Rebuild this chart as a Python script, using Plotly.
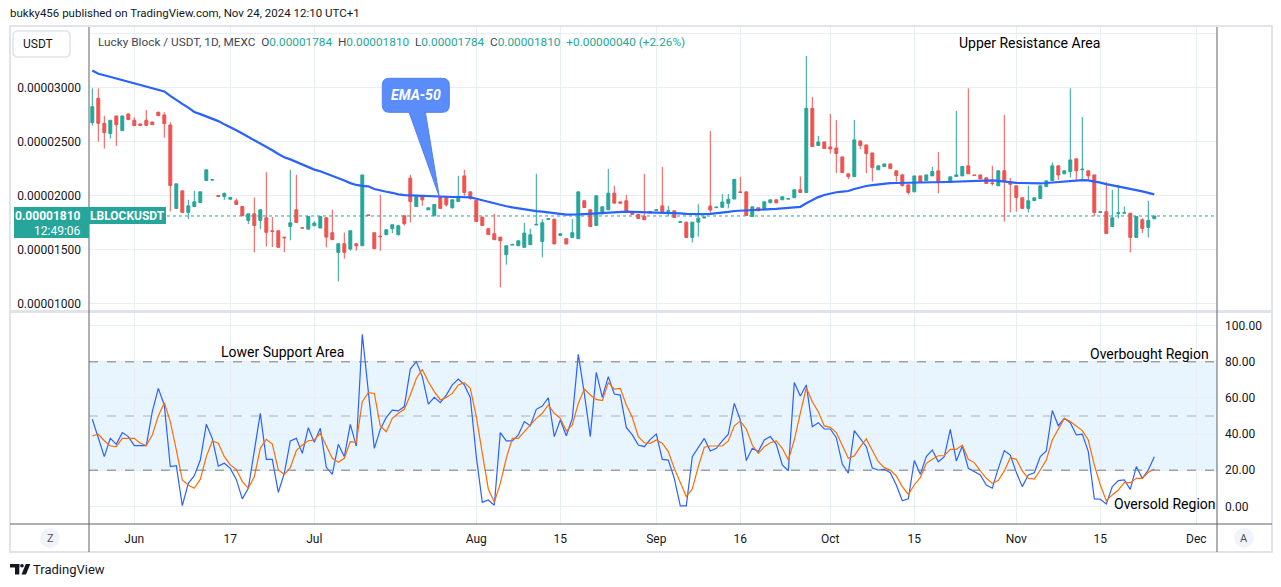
import plotly.graph_objects as go

W, H = 1281, 587
UNIT = 1e-8  # price values below are in units of 0.00000001

# ---------------- data ----------------
tick_pos = [7, 23, 37, 64, 78, 94, 108, 123, 137, 154, 168, 184]
tick_text = ["Jun", "17", "Jul", "Aug", "15", "Sep", "16", "Oct", "15", "Nov", "15", "Dec"]

opens = [
    2676, 2901, 2670, 2574, 2738, 2602, 2756, 2698, 2664, 2698,
    2682, 2772, 2747, 2654, 1880, 2043, 1843, 1898, 1935, 2139,
    2143, 2000, 1991, 1966, 1951, 1898, 1769, 1830, 1769, 1793,
    1673, 1673, 1614, 1713, 1867, 1700, 1688, 1719, 1698, 1793,
    1655, 1472, 1553, 1503, 1553, 1534, 1820, 1655, 1624, 1636,
    1692, 1636, 1812, 2161, 1898, 1997, 1867, 1812, 1991, 1991,
    1886, 1945, 2182, 2034, 1954, 1800, 1692, 1645, 1614, 1451,
    1540, 1534, 1519, 1543, 1726, 1574, 1778, 1781, 1630, 1599,
    1611, 1599, 1951, 1867, 1722, 1830, 1867, 2022, 1941, 1951,
    1843, 1824, 1806, 1852, 1861, 1904, 1852, 1858, 1750, 1753,
    1611, 1753, 1791, 1902, 1887, 1890, 1927, 1967, 2034, 2034,
    1806, 1886, 1877, 1932, 1960, 1960, 1966, 1979, 2053, 2028,
    2809, 2463, 2497, 2451, 2441, 2358, 2201, 2176, 2506, 2469,
    2395, 2238, 2269, 2293, 2229, 2191, 2099, 2034, 2182, 2139,
    2182, 2229, 2120, 2120, 2176, 2182, 2275, 2191, 2191, 2164,
    2117, 2090, 2229, 2114, 2090, 1979, 1880, 1954, 1972, 2083,
    2139, 2275, 2201, 2222, 2340, 2238, 2229, 2191, 1843, 1849,
    1713, 1833, 1836, 1836, 1611, 1775, 1704, 1784,
]
highs = [
    2994, 2994, 2738, 2698, 2738, 2738, 2762, 2725, 2664, 2793,
    2682, 2778, 2772, 2679, 2108, 2043, 1960, 2043, 2034, 2238,
    2146, 2000, 2028, 1982, 1972, 1898, 1830, 1982, 1867, 2216,
    1800, 1673, 1614, 2238, 2191, 1700, 1806, 1760, 1806, 1800,
    1867, 1553, 1655, 1673, 1553, 2191, 1820, 1655, 2006, 1682,
    1729, 1729, 1812, 2191, 1991, 1997, 1886, 1917, 1991, 1991,
    1960, 2182, 2238, 2034, 1954, 1800, 1692, 1830, 1614, 1534,
    1546, 1580, 1747, 1692, 2201, 1781, 1784, 1781, 1645, 1599,
    1781, 2034, 1951, 1867, 1997, 1895, 2247, 2090, 1941, 2006,
    1843, 1824, 2201, 1852, 1867, 2265, 1904, 1858, 1756, 1753,
    1753, 1919, 1800, 2598, 1892, 2014, 2014, 2150, 2173, 2034,
    1895, 1886, 1941, 1960, 1960, 1988, 1972, 2053, 2176, 3294,
    2914, 2553, 2497, 2756, 2701, 2358, 2201, 2701, 2506, 2469,
    2395, 2275, 2293, 2293, 2229, 2201, 2099, 2182, 2182, 2191,
    2265, 2404, 2126, 2173, 2784, 2269, 2994, 2191, 2191, 2164,
    2275, 2229, 2747, 2161, 2090, 1979, 2090, 1979, 2090, 2136,
    2306, 2281, 2229, 2994, 2340, 2728, 2229, 2191, 1849, 2127,
    2053, 2099, 1898, 1836, 1806, 1790, 1951, 1810,
]
lows = [
    2648, 2500, 2435, 2528, 2460, 2602, 2700, 2648, 2645, 2648,
    2657, 2735, 2537, 1852, 1877, 1843, 1781, 1898, 1935, 2139,
    2143, 1991, 1960, 1960, 1917, 1812, 1735, 1472, 1688, 1528,
    1522, 1519, 1472, 1584, 1745, 1698, 1688, 1719, 1698, 1519,
    1590, 1204, 1414, 1488, 1488, 1534, 1812, 1506, 1488, 1636,
    1651, 1630, 1722, 1750, 1898, 1904, 1867, 1812, 1880, 1898,
    1880, 1945, 1997, 1960, 1759, 1722, 1639, 1590, 1148, 1358,
    1540, 1534, 1519, 1543, 1726, 1426, 1778, 1550, 1630, 1550,
    1611, 1599, 1889, 1713, 1722, 1830, 1867, 1929, 1929, 1843,
    1824, 1787, 1775, 1836, 1861, 1852, 1806, 1796, 1750, 1611,
    1565, 1618, 1791, 1819, 1887, 1890, 1881, 1967, 2028, 1815,
    1806, 1858, 1877, 1932, 1932, 1960, 1966, 1979, 2028, 2028,
    2454, 2463, 2435, 2389, 2207, 2213, 2151, 2176, 2429, 2207,
    2130, 2238, 2269, 2250, 2127, 2083, 2009, 2034, 2120, 2139,
    2182, 2019, 2120, 2120, 2176, 2182, 2201, 2185, 2154, 2111,
    2090, 2090, 1759, 1843, 1852, 1880, 1843, 1954, 1972, 2083,
    2139, 2145, 2201, 2167, 2145, 2145, 2145, 1806, 1843, 1648,
    1713, 1787, 1836, 1472, 1611, 1651, 1611, 1784,
]
closes = [
    2824, 2670, 2583, 2698, 2657, 2738, 2704, 2648, 2651, 2651,
    2657, 2741, 2667, 2093, 2108, 1843, 1904, 1941, 2034, 2238,
    2146, 1991, 2019, 1982, 1917, 1812, 1830, 1722, 1867, 1658,
    1667, 1519, 1608, 1747, 1750, 1698, 1806, 1744, 1806, 1614,
    1590, 1553, 1472, 1673, 1534, 2191, 1815, 1506, 1618, 1682,
    1729, 1719, 1738, 1945, 1991, 1960, 1886, 1917, 1880, 1914,
    1960, 1991, 2028, 1975, 1759, 1722, 1639, 1590, 1580, 1534,
    1546, 1580, 1651, 1636, 1732, 1747, 1784, 1550, 1645, 1550,
    1655, 2034, 1889, 1713, 1997, 1895, 2022, 1929, 1929, 1843,
    1824, 1787, 1775, 1836, 1867, 1852, 1858, 1796, 1756, 1611,
    1753, 1790, 1800, 1865, 1892, 1940, 1965, 2150, 2028, 1815,
    1895, 1858, 1941, 1960, 1932, 1988, 1972, 2053, 2028, 2809,
    2454, 2497, 2435, 2432, 2389, 2213, 2176, 2516, 2463, 2389,
    2259, 2275, 2293, 2250, 2185, 2093, 2028, 2182, 2120, 2191,
    2222, 2120, 2126, 2173, 2191, 2269, 2201, 2185, 2154, 2111,
    2111, 2229, 2130, 2105, 1982, 1880, 1951, 1979, 2090, 2136,
    2275, 2191, 2229, 2330, 2229, 2244, 2182, 1843, 1849, 1648,
    1793, 1839, 1840, 1611, 1806, 1695, 1770, 1810,
]
ema50 = [
    3160, 3130, 3115, 3100, 3087, 3073, 3055, 3040, 3028, 3013,
    3000, 2985, 2965, 2925, 2885, 2850, 2815, 2775, 2755, 2735,
    2715, 2690, 2660, 2635, 2605, 2575, 2545, 2510, 2480, 2450,
    2420, 2385, 2355, 2335, 2310, 2285, 2265, 2240, 2225, 2205,
    2185, 2165, 2140, 2115, 2098, 2090, 2085, 2060, 2045, 2035,
    2025, 2010, 2003, 2000, 1997, 1995, 1993, 1990, 1988, 1987,
    1986, 1986, 1985, 1982, 1970, 1955, 1940, 1925, 1910, 1900,
    1890, 1880, 1868, 1860, 1855, 1850, 1845, 1838, 1830, 1822,
    1820, 1825, 1828, 1832, 1836, 1840, 1845, 1848, 1850, 1850,
    1849, 1847, 1846, 1846, 1845, 1845, 1844, 1840, 1835, 1830,
    1828, 1827, 1828, 1830, 1834, 1840, 1848, 1856, 1860, 1862,
    1864, 1866, 1869, 1873, 1876, 1880, 1884, 1888, 1895, 1928,
    1960, 1985, 2005, 2020, 2030, 2036, 2042, 2060, 2075, 2088,
    2097, 2104, 2110, 2114, 2116, 2118, 2120, 2121, 2122, 2123,
    2123, 2123, 2125, 2128, 2131, 2135, 2138, 2140, 2141, 2141,
    2140, 2135, 2128, 2122, 2118, 2116, 2114, 2113, 2113, 2116,
    2120, 2124, 2130, 2137, 2141, 2142, 2141, 2133, 2120, 2106,
    2096, 2086, 2077, 2064, 2050, 2038, 2024, 2011,
]
stoch_k = [
    48.2, 37.6, 27.5, 37.6, 34.3, 40.8, 38.6, 33.6, 33.4, 33.6,
    52.4, 65.3, 56.1, 22.0, 22.5, 0.4, 12.7, 17.0, 25.6, 45.4,
    37.6, 22.3, 23.8, 21.0, 14.9, 4.1, 10.0, 31.2, 51.5, 26.0,
    26.0, 7.7, 18.3, 36.2, 37.6, 29.3, 43.5, 35.4, 43.2, 21.6,
    17.7, 34.3, 27.5, 45.4, 33.4, 95.2, 62.5, 32.1, 42.6, 49.3,
    53.3, 52.8, 55.2, 76.0, 80.1, 71.8, 56.6, 60.3, 57.4, 61.6,
    67.2, 70.5, 67.2, 60.3, 27.5, 2.2, 3.5, 0.6, 40.8, 36.2,
    36.2, 39.5, 46.9, 44.6, 53.7, 55.5, 60.1, 38.6, 47.8, 39.1,
    48.7, 84.1, 62.5, 38.6, 74.2, 60.3, 71.8, 62.2, 61.6, 43.7,
    39.5, 33.9, 33.0, 37.1, 40.0, 26.0, 25.6, 15.5, 0.2, 0.2,
    27.5, 32.7, 37.6, 30.6, 32.1, 36.2, 39.9, 57.0, 47.8, 25.3,
    32.1, 30.3, 36.7, 38.6, 34.3, 22.9, 19.7, 68.5, 61.1, 67.2,
    44.1, 46.3, 42.8, 42.8, 38.0, 23.4, 18.3, 41.9, 37.6, 33.0,
    21.2, 20.1, 20.5, 18.6, 11.8, 3.1, 4.1, 25.3, 17.7, 27.5,
    31.2, 24.7, 27.5, 42.6, 25.1, 33.4, 21.0, 19.2, 17.3, 11.8,
    10.0, 21.0, 30.8, 28.4, 18.8, 10.9, 17.3, 18.6, 27.5, 30.6,
    53.0, 44.6, 48.7, 46.3, 39.5, 40.0, 30.3, 4.1, 3.9, 1.3,
    10.9, 14.2, 14.6, 9.4, 22.0, 15.5, 20.1, 27.5,
]
stoch_d = [
    38.9, 39.9, 36.3, 33.4, 33.0, 37.6, 37.6, 37.6, 34.9, 33.6,
    39.5, 50.0, 57.4, 46.9, 31.2, 14.6, 11.8, 10.0, 14.9, 27.5,
    36.2, 34.9, 27.5, 22.9, 20.5, 13.7, 10.0, 16.4, 32.1, 37.1,
    34.5, 20.1, 17.7, 21.4, 30.8, 33.9, 36.3, 36.7, 40.4, 33.0,
    26.6, 24.4, 26.6, 35.8, 35.4, 57.9, 62.9, 62.5, 44.5, 41.3,
    48.7, 51.5, 53.7, 61.6, 70.8, 75.8, 69.0, 63.5, 58.9, 60.3,
    62.5, 67.2, 68.5, 65.3, 49.6, 29.3, 9.6, 2.2, 12.7, 26.6,
    37.6, 37.6, 41.3, 44.5, 48.7, 51.5, 56.1, 51.5, 48.7, 41.7,
    45.0, 57.0, 64.9, 61.6, 59.2, 58.5, 68.5, 64.9, 65.3, 56.1,
    49.3, 38.6, 35.2, 34.9, 36.7, 34.9, 30.3, 21.0, 12.7, 5.4,
    9.6, 22.0, 32.7, 33.4, 33.4, 33.4, 36.2, 44.6, 47.2, 42.8,
    33.9, 29.3, 33.0, 35.2, 36.2, 32.1, 25.6, 36.7, 51.5, 65.7,
    57.9, 52.4, 44.5, 43.7, 40.8, 33.9, 26.6, 27.9, 33.0, 37.3,
    31.2, 24.7, 21.4, 20.1, 16.8, 10.9, 6.6, 11.8, 15.9, 23.8,
    26.0, 28.0, 28.0, 31.5, 31.5, 33.9, 26.0, 24.2, 19.6, 15.5,
    12.7, 14.2, 19.6, 26.9, 26.0, 19.6, 15.5, 15.1, 20.1, 25.6,
    36.7, 42.8, 48.7, 46.9, 44.6, 41.9, 36.7, 22.9, 11.8, 3.1,
    6.3, 9.0, 13.1, 13.1, 15.5, 15.5, 18.8, 20.7,
]
price_ticks = [1000, 1500, 2000, 2500, 3000, 3500]
osc_ticks = [0, 20, 40, 60, 80, 100]
osc_levels = [80, 50, 20]

for name, arr in [("opens", opens), ("highs", highs), ("lows", lows), ("ema50", ema50),
                  ("stoch_k", stoch_k), ("stoch_d", stoch_d)]:
    if len(arr) != len(closes):
        raise SystemExit(f"{name} has {len(arr)} values, closes has {len(closes)}")

# ---------------- helpers ----------------
idx = list(range(len(closes)))


def sc(v):
    return [x * UNIT for x in v]


def PX(x):
    return x / W


def PY(y):
    return 1 - y / H


UP = "#26a69a"
DOWN = "#ef5350"
GRID = "#e8eef3"
TEXT = "#131722"
BORDER = "#e0e3eb"
AXIS = "#5d606b"
FONT = "Roboto, Arial, sans-serif"

X_L, X_R = 89, 1217
P_T, P_B = 27, 310
O_T, O_B = 313, 524
# axis ranges derived from pixel calibration of the reference (6 px per bar)
x_range = [(X_L - 92.3) / 6.0, (X_R - 92.3) / 6.0]
p_per_px = 2000 / 215.6
price_range = [(1000 - (P_B - 303.3) * p_per_px) * UNIT, (3000 + (87.7 - P_T) * p_per_px) * UNIT]
o_per_px = 100 / (506.3 - 325.7)
osc_range = [-(O_B - 506.3) * o_per_px, 100 + (325.7 - O_T) * o_per_px]

fig = go.Figure()
fig.add_trace(go.Candlestick(
    x=idx, open=sc(opens), high=sc(highs), low=sc(lows), close=sc(closes),
    increasing=dict(line=dict(color=UP, width=1), fillcolor=UP),
    decreasing=dict(line=dict(color=DOWN, width=1), fillcolor=DOWN),
    whiskerwidth=0, xaxis="x", yaxis="y", showlegend=False, hoverinfo="skip"))
fig.add_trace(go.Scatter(x=idx, y=sc(ema50), mode="lines", line=dict(color="#2962ff", width=2.2),
                         xaxis="x", yaxis="y", showlegend=False, hoverinfo="skip"))
fig.add_trace(go.Scatter(x=idx, y=stoch_k, mode="lines", line=dict(color="#2962ff", width=1.2),
                         xaxis="x2", yaxis="y2", showlegend=False, hoverinfo="skip"))
fig.add_trace(go.Scatter(x=idx, y=stoch_d, mode="lines", line=dict(color="#ff6d00", width=1.2),
                         xaxis="x2", yaxis="y2", showlegend=False, hoverinfo="skip"))

tick_font = dict(family=FONT, size=12, color=TEXT)
common_x = dict(domain=[PX(X_L), PX(X_R)], range=x_range, tickmode="array", tickvals=tick_pos,
                showgrid=True, gridcolor=GRID, gridwidth=1, zeroline=False, showline=False,
                ticks="", fixedrange=True)

shapes = []


def rrect(x0, y0, x1, y1, r):
    X, Y = PX, PY
    return (f"M {X(x0 + r)},{Y(y0)} L {X(x1 - r)},{Y(y0)} Q {X(x1)},{Y(y0)} {X(x1)},{Y(y0 + r)} "
            f"L {X(x1)},{Y(y1 - r)} Q {X(x1)},{Y(y1)} {X(x1 - r)},{Y(y1)} L {X(x0 + r)},{Y(y1)} "
            f"Q {X(x0)},{Y(y1)} {X(x0)},{Y(y1 - r)} L {X(x0)},{Y(y0 + r)} Q {X(x0)},{Y(y0)} {X(x0 + r)},{Y(y0)} Z")


def pline(x0, y0, x1, y1, color, width=1, dash="solid"):
    shapes.append(dict(type="line", xref="paper", yref="paper", x0=PX(x0), y0=PY(y0), x1=PX(x1), y1=PY(y1),
                       line=dict(color=color, width=width, dash=dash)))


def prect(x0, y0, x1, y1, fill, line_color=None, line_width=0):
    shapes.append(dict(type="rect", xref="paper", yref="paper", x0=PX(x0), y0=PY(y1), x1=PX(x1), y1=PY(y0),
                       fillcolor=fill, line=dict(color=line_color or fill, width=line_width)))


# oscillator band and levels
shapes.append(dict(type="rect", xref="x2 domain", yref="y2", x0=0, x1=1, y0=osc_levels[2], y1=osc_levels[0],
                   fillcolor="rgba(33,150,243,0.10)", line=dict(width=0), layer="below"))
for lv, col in zip(osc_levels, ["#787b86", "rgba(120,123,134,0.55)", "#787b86"]):
    shapes.append(dict(type="line", xref="x2 domain", yref="y2", x0=0, x1=1, y0=lv, y1=lv,
                       line=dict(color=col, width=1, dash="dash")))

# last price dotted line
shapes.append(dict(type="line", xref="x domain", yref="y", x0=0, x1=1, y0=closes[-1] * UNIT, y1=closes[-1] * UNIT,
                   line=dict(color=UP, width=1, dash="dot")))

# frame and pane borders
shapes.append(dict(type="rect", xref="paper", yref="paper", x0=PX(10), x1=PX(1272), y0=PY(552), y1=PY(26),
                   line=dict(color=BORDER, width=2), fillcolor="rgba(0,0,0,0)"))
pline(10, 311.5, 1272, 311.5, BORDER, 3)
pline(X_L, P_T, X_L, 552, AXIS, 1)
pline(X_R, P_T, X_R, 552, AXIS, 1)
pline(10, O_B, 1272, O_B, AXIS, 1)

# USDT box
shapes.append(dict(type="path", xref="paper", yref="paper", path=rrect(13, 31, 70, 57, 5),
                   fillcolor="white", line=dict(color=BORDER, width=1.5)))

# last price labels
prect(14, 207, X_L, 238, UP)
prect(X_L, 207, 166, 224, UP)

# EMA-50 callout
tri = f"M {PX(408.3)},{PY(110)} L {PX(425)},{PY(110)} L {PX(439.3)},{PY(196.7)} Z"
shapes.append(dict(type="path", xref="paper", yref="paper", path=tri, fillcolor="#5b8cfb",
                   line=dict(color="#4f7ff2", width=1)))
shapes.append(dict(type="path", xref="paper", yref="paper", path=rrect(382.3, 78.3, 449.3, 112.3, 7),
                   fillcolor="#5b8cfb", line=dict(color="#4f7ff2", width=1)))
prect(409.5, 108, 424, 113, "#5b8cfb")

# bottom circles
for cx in (50, 1244):
    shapes.append(dict(type="circle", xref="paper", yref="paper", x0=PX(cx - 10), x1=PX(cx + 10),
                       y0=PY(548), y1=PY(528), fillcolor="#f0f3fa", line=dict(width=0)))

# TradingView logo
prect(10, 564, 19.3, 567.5, TEXT)
prect(15, 564, 19.3, 574.5, TEXT)
shapes.append(dict(type="circle", xref="paper", yref="paper", x0=PX(20.2), x1=PX(23.8), y0=PY(567.6), y1=PY(564),
                   fillcolor=TEXT, line=dict(width=0)))
logo_slant = f"M {PX(21.5)},{PY(574.5)} L {PX(26)},{PY(574.5)} L {PX(30.3)},{PY(564)} L {PX(25.8)},{PY(564)} Z"
shapes.append(dict(type="path", xref="paper", yref="paper", path=logo_slant, fillcolor=TEXT, line=dict(width=0)))

annotations = []


def ann(text, x, y, size=12, color=TEXT, xanchor="left", yanchor="middle"):
    annotations.append(dict(text=text, x=PX(x), y=PY(y), xref="paper", yref="paper", showarrow=False,
                            xanchor=xanchor, yanchor=yanchor, font=dict(family=FONT, size=size, color=color),
                            borderpad=0))


ann("bukky456 published on TradingView.com, Nov 24, 2024 12:10 UTC+1", 9, 13, 11.5)
ann("USDT", 22, 44, 12)

o, hh, ll, c = opens[-1] * UNIT, highs[-1] * UNIT, lows[-1] * UNIT, closes[-1] * UNIT
chg = (closes[-1] - closes[-2]) * UNIT
pct = (closes[-1] - closes[-2]) / closes[-2] * 100
sp = "\u00a0\u00a0"
legend = (f"Lucky Block / USDT, 1D, MEXC{sp}"
          f"O<span style='color:{UP}'>{o:.8f}</span>{sp}"
          f"H<span style='color:{UP}'>{hh:.8f}</span>{sp}"
          f"L<span style='color:{UP}'>{ll:.8f}</span>{sp}"
          f"C<span style='color:{UP}'>{c:.8f}</span>{sp}"
          f"<span style='color:{UP}'>{chg:+.8f} ({pct:+.2f}%)</span>")
ann(legend, 97, 42, 11.8, "#434651")

ann("Upper Resistance Area", 958, 43, 14, "#000000")
ann("Lower Support Area", 220, 352, 14, "#000000")
ann("Overbought Region", 1089, 354, 14, "#000000")
ann("Oversold Region", 1113, 504, 14, "#000000")
ann("<b><i>EMA-50</i></b>", 415.8, 95.5, 14, "#ffffff", xanchor="center")

ann(f"<b>{c:.8f}</b>", 82, 215.5, 12, "#ffffff", xanchor="right")
ann("12:49:06", 82, 230.5, 12, "#ffffff", xanchor="right")
ann("<b>LBLOCKUSDT</b>", 127.5, 215.5, 12, "#ffffff", xanchor="center")

ann("Z", 50, 538, 11, "#50535e", xanchor="center")
ann("A", 1244, 538, 11, "#50535e", xanchor="center")
ann("TradingView", 32, 569, 13, TEXT)

fig.update_layout(
    width=W, height=H, autosize=False,
    margin=dict(l=0, r=0, t=0, b=0, pad=0),
    paper_bgcolor="white", plot_bgcolor="white",
    font=dict(family=FONT, size=12, color=TEXT),
    showlegend=False,
    xaxis=dict(**common_x, anchor="y", showticklabels=False, rangeslider=dict(visible=False)),
    xaxis2=dict(**common_x, anchor="y2", ticktext=tick_text, showticklabels=True,
                tickfont=tick_font, ticklabelstandoff=6),
    yaxis=dict(domain=[PY(P_B), PY(P_T)], range=price_range, anchor="x", side="left",
               tickmode="array", tickvals=sc(price_ticks),
               ticktext=[f"{v * UNIT:.8f}" if v < 3500 else "" for v in price_ticks],
               tickfont=tick_font, ticks="", ticklabelstandoff=7,
               showgrid=True, gridcolor=GRID, zeroline=False, showline=False, fixedrange=True),
    yaxis2=dict(domain=[PY(O_B), PY(O_T)], range=osc_range, anchor="x2", side="right",
                tickmode="array", tickvals=osc_ticks, ticktext=[f"{v:.2f}" for v in osc_ticks],
                tickfont=tick_font, ticks="", ticklabelstandoff=7,
                showgrid=True, gridcolor=GRID, zeroline=False, showline=False, fixedrange=True),
    shapes=shapes,
    annotations=annotations,
)

fig.write_html("out.html", include_plotlyjs=True, config={"displayModeBar": False, "staticPlot": True},
               post_script="document.body.style.margin='0px';document.body.style.overflow='hidden';")
